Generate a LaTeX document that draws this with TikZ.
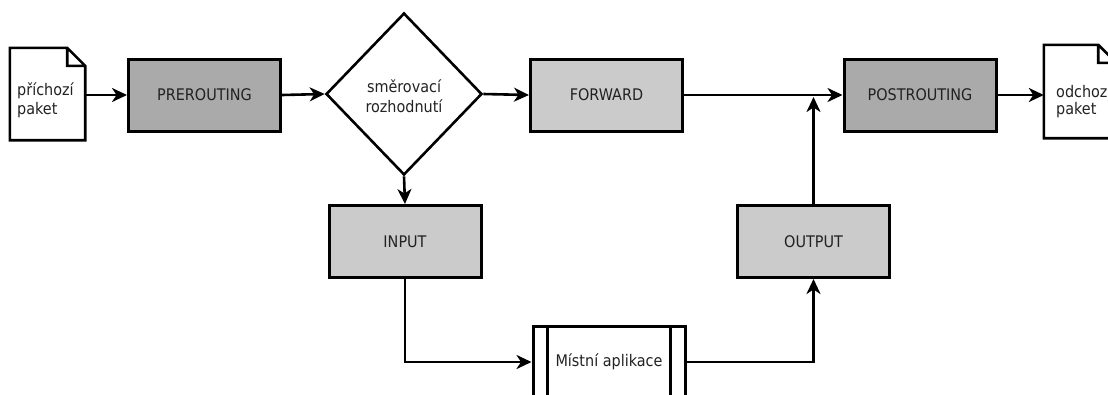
\documentclass[tikz,border=0pt]{standalone}
\usepackage{fontspec}
\setmainfont{DejaVu Sans Condensed}
\usetikzlibrary{shapes.geometric,arrows.meta}
\definecolor{stagedark}{HTML}{AAAAAA}
\definecolor{stagelight}{HTML}{CBCBCB}
\definecolor{ink}{HTML}{222222}

\begin{document}
\begin{tikzpicture}[x=1pt,y=-1pt,
  every node/.style={font=\fontsize{16}{19}\selectfont, text=ink},
  stagebox/.style={draw=black, line width=3pt, minimum width=152pt,
    minimum height=72pt, inner sep=0pt},
  darkstage/.style={stagebox, fill=stagedark},
  lightstage/.style={stagebox, fill=stagelight},
  decision/.style={shape=diamond, draw=black, line width=2.6pt, fill=white,
    minimum width=156pt, minimum height=162pt, inner sep=0pt},
  docnode/.style={draw=none, inner sep=0pt},
  docline/.style={draw=black, line width=2.6pt, line join=miter, fill=white},
  linetext/.style={anchor=base west, inner sep=0pt},
  flow/.style={draw=black, line width=2.6pt,
    -{Stealth[length=15pt,width=14pt,inset=4.5pt]}},
]
\useasboundingbox (0,0) rectangle (1108,394);
\clip (0,0) rectangle (1108,394);

% packet documents
\node[docnode, minimum width=75pt, minimum height=92pt] (pin) at (47.5,94) {};
\node[docnode, minimum width=72pt, minimum height=93pt] (pout) at (1080,91.5) {};
\foreach \d in {pin,pout}
  \draw[docline] (\d.north west) -- ([xshift=-18pt]\d.north east)
    -- ([yshift=-18pt]\d.north east) -- (\d.south east) -- (\d.south west) -- cycle
    ([xshift=-18pt]\d.north east) |- ([yshift=-18pt]\d.north east);
\node[linetext] (pin1) at (17,95) {příchozí};
\node[linetext] (pin2) at (17,114) {paket};
\node[linetext] (pout1) at (1056,97) {odchozí};
\node[linetext] (pout2) at (1056,114) {paket};

% chain stages
\node[darkstage] (pre) at (204.5,95) {PREROUTING};
\node[decision] (dec) at (404,94) {};
\node[anchor=base, inner sep=0pt] (dec1) at (404,92) {směrovací};
\node[anchor=base, inner sep=0pt] (dec2) at (404,112) {rozhodnutí};
\node[lightstage] (fwd) at (606.5,95) {FORWARD};
\node[darkstage] (post) at (920,95) {POSTROUTING};
\node[lightstage] (inp) at (405,241.5) {INPUT};
\node[lightstage] (out) at (813.5,241.5) {OUTPUT};

% local application
\node[stagebox, fill=white] (app) at (609,362) {Místní aplikace};
\draw[black, line width=2.6pt]
  ([xshift=16pt]app.north west) -- ([xshift=16pt]app.south west)
  ([xshift=-16pt]app.north east) -- ([xshift=-16pt]app.south east);

% packet flow
\draw[flow] (pre.west -| pin.east) -- (pre.west);
\draw[flow] (pre.east) -- (dec.west);
\draw[flow] (dec.east) -- (fwd.west);
\draw[flow] (dec.south) -- (inp.north);
\draw[flow] (fwd.east) -- (post.west);
\coordinate (merge) at (out.north |- post.west);
\draw[flow, shorten >=2pt] (out.north) -- (merge);
\draw[flow] (post.east) -- (pout.west |- post.east);
\draw[flow] (inp.south) |- (app.west);
\draw[flow] (app.east) -| (out.south);
\end{tikzpicture}
\end{document}
